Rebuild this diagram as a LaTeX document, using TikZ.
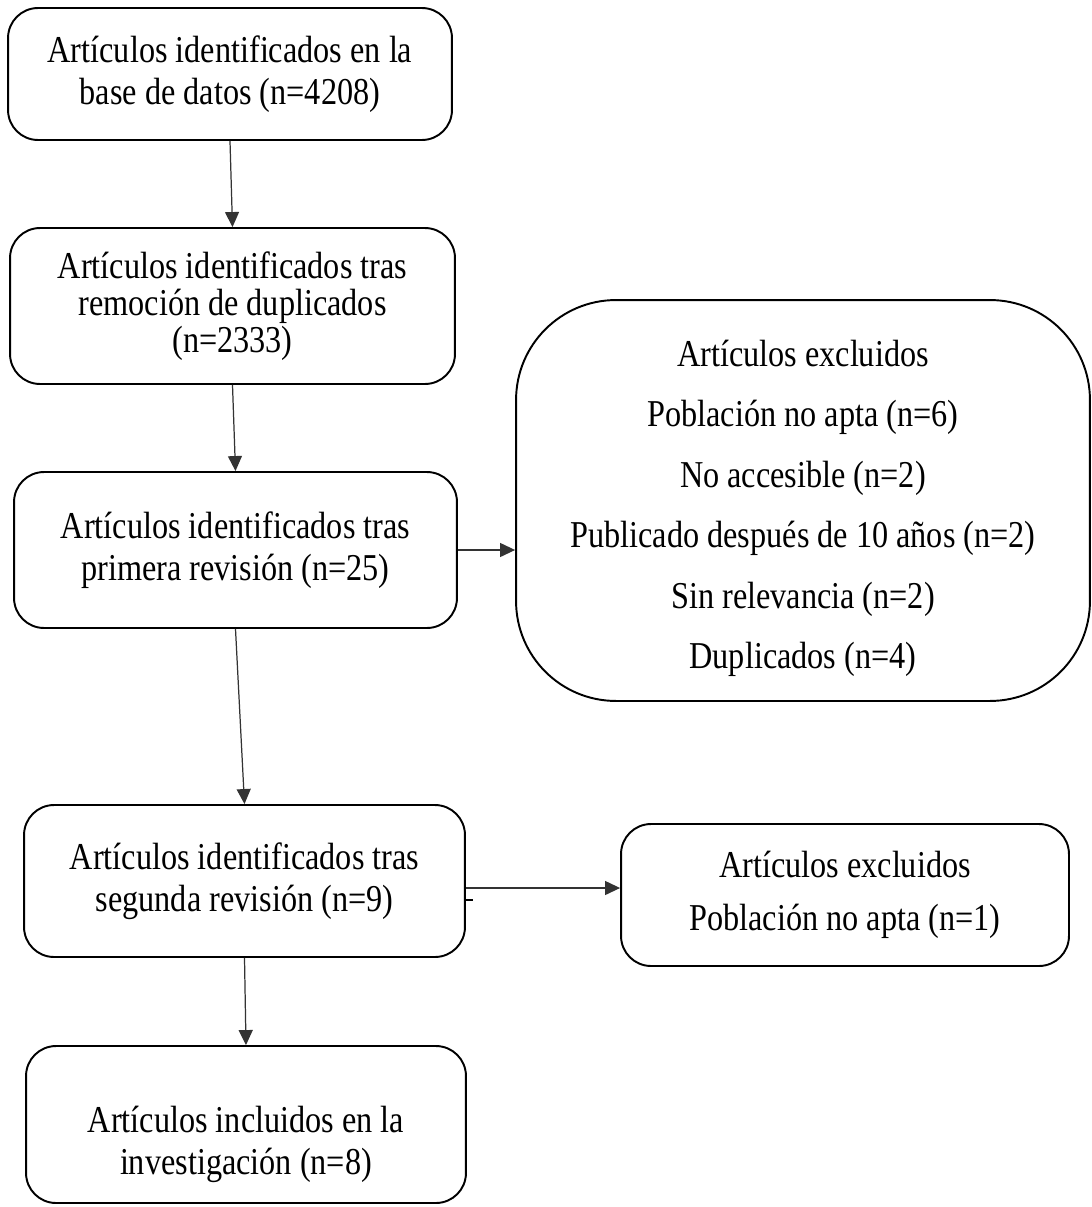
\documentclass[tikz,border=0pt]{standalone}
\usepackage{fontspec}
\setmainfont{Liberation Serif}[FakeStretch=0.85]
\usetikzlibrary{arrows.meta}
\newcommand{\topgap}[1]{\rule{0pt}{#1}}
\tikzset{
    flowbox/.style={draw, line width=1.1pt, rounded corners=0.6cm, align=center,
        font=\fontsize{21.6pt}{24pt}\selectfont},
    flowarrow/.style={line width=0.7pt, draw=black!80, -{Triangle[length=0.3cm, width=0.28cm]}},
}
\begin{document}
\begin{tikzpicture}[x=0.02cm, y=-0.02cm]
        \useasboundingbox (0, 0) rectangle (1092, 1207);

        \node[flowbox, minimum width=8.88cm, minimum height=2.64cm] (b1) at (230, 74)
            {Artículos identificados en la\\ base de datos (n=4208)};
        \node[flowbox, minimum width=8.9cm, minimum height=3.12cm,
            font=\fontsize{21.6pt}{21.2pt}\selectfont] (b2) at (232.5, 306)
            {Artículos identificados tras\\ remoción de duplicados\\ (n=2333)};
        \node[flowbox, minimum width=8.86cm, minimum height=3.12cm] (b3) at (235.5, 550)
            {Artículos identificados tras\\ primera revisión (n=25)};
        \node[flowbox, rounded corners=2cm, minimum width=11.48cm, minimum height=8.02cm,
            font=\fontsize{21.6pt}{34.4pt}\selectfont] (excl1) at (803, 500.5)
            {\topgap{24pt}Artículos excluidos\\ Población no apta (n=6)\\ No accesible (n=2)\\
             Publicado después de 10 años (n=2)\\ Sin relevancia (n=2)\\ Duplicados (n=4)};
        \node[flowbox, minimum width=8.82cm, minimum height=3.04cm] (b4) at (244.5, 881)
            {Artículos identificados tras\\ segunda revisión (n=9)};
        \node[flowbox, minimum width=8.96cm, minimum height=2.84cm,
            font=\fontsize{21.6pt}{30pt}\selectfont] (excl2) at (845, 895)
            {Artículos excluidos\\ Población no apta (n=1)};
        \node[flowbox, minimum width=8.8cm, minimum height=3.14cm] (b5) at (246, 1124.5)
            {\topgap{37.5pt}Artículos incluidos en la\\ investigación (n=8)};

        \draw[flowarrow] (b1.south) -- (b2.north);
        \draw[flowarrow] (b2.south) -- (b3.north);
        \draw[flowarrow] (b3.south) -- (b4.north);
        \draw[flowarrow] (b4.south) -- (b5.north);
        \draw[flowarrow] (b3.east) -- (b3.east -| excl1.west);
        \draw[flowarrow] ([yshift=-0.14cm]b4.east) -- ([yshift=-0.14cm]b4.east -| excl2.west);
        \draw[line width=0.6pt] (b4.east) ++(0, 19) -- ++(7, 0);
    \end{tikzpicture}
\end{document}
